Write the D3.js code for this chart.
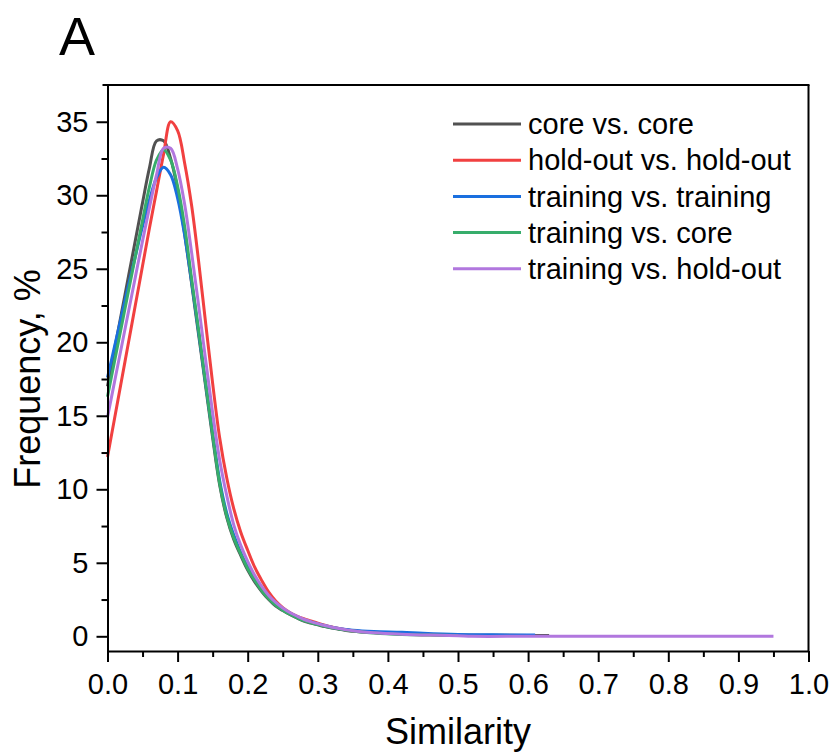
<!DOCTYPE html>
<html>
<head>
<meta charset="utf-8">
<script src="https://cdn.jsdelivr.net/npm/d3@7"></script>
<style>
    body { margin: 0; background: #fff; }
    svg text { font-family: "Liberation Sans", Arial, sans-serif; fill: #000; }
</style>
</head>
<body>
<script>
// similarity grid for the dense part of the curves
var simX = [0.00, 0.01, 0.02, 0.03, 0.04, 0.05, 0.06, 0.07, 0.08, 0.09,
    0.10, 0.11, 0.12, 0.13, 0.14, 0.15, 0.16, 0.17, 0.18, 0.19,
    0.20, 0.21, 0.22, 0.23, 0.24, 0.25, 0.26, 0.27, 0.28, 0.29,
    0.30, 0.31, 0.32, 0.33, 0.34, 0.35];

// frequency, % (one value per simX)
var coreCore = [17.0, 19.5, 22.0, 24.5, 27.0, 29.5, 31.9, 33.7, 33.7, 32.5,
    30.4, 27.4, 24.0, 20.5, 17.0, 13.5, 10.3, 8.1, 6.6, 5.5,
    4.5, 3.7, 3.05, 2.5, 2.05, 1.75, 1.48, 1.25, 1.04, 0.9,
    0.78, 0.66, 0.56, 0.48, 0.4, 0.34];
var holdHold = [12.2, 14.8, 17.4, 20.0, 22.6, 25.2, 27.8, 30.3, 32.8, 35.0,
    34.4, 32.2, 29.3, 25.5, 21.3, 17.2, 13.5, 10.8, 8.7, 7.1,
    5.85, 4.7, 3.8, 3.0, 2.4, 1.95, 1.62, 1.38, 1.2, 1.05,
    0.9, 0.76, 0.64, 0.54, 0.45, 0.38];
var trainTrain = [17.6, 19.7, 21.8, 23.9, 25.9, 27.9, 29.7, 31.2, 31.9, 31.4,
    29.8, 27.3, 24.1, 20.7, 17.2, 13.8, 10.6, 8.4, 6.9, 5.7,
    4.7, 3.9, 3.2, 2.65, 2.2, 1.85, 1.58, 1.34, 1.12, 0.97,
    0.84, 0.72, 0.62, 0.54, 0.47, 0.41];
var trainCore = [16.3, 18.7, 21.1, 23.5, 25.9, 28.3, 30.6, 32.4, 33.1, 32.4,
    30.6, 27.9, 24.3, 20.8, 17.2, 13.7, 10.4, 8.2, 6.7, 5.6,
    4.6, 3.8, 3.1, 2.55, 2.1, 1.78, 1.5, 1.27, 1.06, 0.92,
    0.8, 0.68, 0.58, 0.5, 0.42, 0.36];
var trainHold = [14.9, 17.3, 19.7, 22.1, 24.5, 26.9, 29.2, 31.4, 33.2, 33.2,
    31.8, 29.4, 26.1, 22.5, 18.8, 15.2, 12.0, 9.6, 7.6, 6.2,
    5.1, 4.15, 3.4, 2.78, 2.3, 1.92, 1.62, 1.38, 1.16, 1.0,
    0.86, 0.73, 0.62, 0.53, 0.45, 0.38];

// sparse tails after 0.35
var coreCoreTailX = [0.38, 0.42, 0.46, 0.50, 0.55, 0.60, 0.63];
var coreCoreTailY = [0.25, 0.18, 0.12, 0.09, 0.07, 0.06, 0.06];
var holdHoldTailX = [0.38, 0.42, 0.46, 0.50];
var holdHoldTailY = [0.26, 0.16, 0.10, 0.06];
var trainTrainTailX = [0.38, 0.42, 0.45, 0.50, 0.55, 0.61];
var trainTrainTailY = [0.32, 0.27, 0.20, 0.12, 0.10, 0.09];
var trainCoreTailX = [0.38, 0.42, 0.46, 0.50];
var trainCoreTailY = [0.22, 0.12, 0.08, 0.05];
var trainHoldTailX = [0.38, 0.42, 0.46, 0.50, 0.52, 0.60, 0.70, 0.80, 0.95];
var trainHoldTailY = [0.24, 0.14, 0.08, 0.04, 0.0, 0.0, 0.0, 0.0, 0.0];

var seriesNames = ["core vs. core", "hold-out vs. hold-out", "training vs. training",
    "training vs. core", "training vs. hold-out"];
var seriesColors = ["#515151", "#F14040", "#1A6FDF", "#37AD6B", "#B177DE"];

var xTicks = [0, 0.1, 0.2, 0.3, 0.4, 0.5, 0.6, 0.7, 0.8, 0.9, 1.0];
var xMinor = [0.05, 0.15, 0.25, 0.35, 0.45, 0.55, 0.65, 0.75, 0.85, 0.95];
var yTicks = [0, 5, 10, 15, 20, 25, 30, 35];
var yMinor = [2.5, 7.5, 12.5, 17.5, 22.5, 27.5, 32.5];

var width = 834,
    height = 753;

var margin = {
    top: 85,
    right: 25.5,
    bottom: 102,
    left: 107.5
};

var plotW = width - margin.left - margin.right,
    plotH = height - margin.top - margin.bottom;

var svg = d3.select("body").append("svg")
    .attr("width", width)
    .attr("height", height);

var g = svg.append("g")
    .attr("transform", "translate(" + margin.left + "," + margin.top + ")");

var x = d3.scaleLinear().domain([0, 1]).range([0, plotW]);
var y = d3.scaleLinear().domain([-1, 37.5]).range([plotH, 0]);

// build series from the arrays
var tables = [
    [coreCore, coreCoreTailX, coreCoreTailY],
    [holdHold, holdHoldTailX, holdHoldTailY],
    [trainTrain, trainTrainTailX, trainTrainTailY],
    [trainCore, trainCoreTailX, trainCoreTailY],
    [trainHold, trainHoldTailX, trainHoldTailY]
];

var series = tables.map(function (t, k) {
    var pts = simX.map(function (sx, j) {
        return { x: sx, y: t[0][j] };
    });
    t[1].forEach(function (tx, j) {
        pts.push({ x: tx, y: t[2][j] });
    });
    return { name: seriesNames[k], color: seriesColors[k], values: pts };
});

var line = d3.line()
    .curve(d3.curveCatmullRom.alpha(0.5))
    .x(function (d) { return x(d.x); })
    .y(function (d) { return y(d.y); });

// ****************** curves ***************************
g.selectAll("path.curve")
    .data(series)
    .enter().append("path")
    .attr("class", "curve")
    .attr("d", function (d) { return line(d.values); })
    .attr("fill", "none")
    .attr("stroke", function (d) { return d.color; })
    .attr("stroke-width", 3)
    .attr("stroke-linejoin", "round");

// ****************** axes ***************************
function styleAxis(sel) {
    sel.select(".domain").attr("stroke-width", 2);
    sel.selectAll(".tick line").attr("stroke-width", 2);
    sel.attr("font-family", null).attr("font-size", null);
    sel.selectAll("text").style("font-size", "29px");
}

g.append("g")
    .attr("transform", "translate(0," + plotH + ")")
    .call(d3.axisBottom(x)
        .tickValues(xTicks)
        .tickSizeInner(11)
        .tickSizeOuter(0)
        .tickPadding(11)
        .tickFormat(d3.format(".1f")))
    .call(styleAxis);

g.append("g")
    .attr("transform", "translate(0," + plotH + ")")
    .call(d3.axisBottom(x)
        .tickValues(xMinor)
        .tickSize(6)
        .tickFormat(""))
    .call(styleAxis)
    .select(".domain").remove();

g.append("g")
    .call(d3.axisLeft(y)
        .tickValues(yTicks)
        .tickSizeInner(11)
        .tickSizeOuter(0)
        .tickPadding(8))
    .call(styleAxis);

g.append("g")
    .call(d3.axisLeft(y)
        .tickValues(yMinor)
        .tickSize(6)
        .tickFormat(""))
    .call(styleAxis)
    .select(".domain").remove();

// top and right frame
g.append("line")
    .attr("x1", -5).attr("x2", plotW + 1)
    .attr("y1", 0).attr("y2", 0)
    .attr("stroke", "#000").attr("stroke-width", 2);
g.append("line")
    .attr("x1", plotW).attr("x2", plotW)
    .attr("y1", 0).attr("y2", plotH)
    .attr("stroke", "#000").attr("stroke-width", 2);

// axis titles
svg.append("text")
    .attr("x", margin.left + plotW / 2)
    .attr("y", 744)
    .attr("text-anchor", "middle")
    .style("font-size", "36px")
    .text("Similarity");

svg.append("text")
    .attr("transform", "translate(40,379) rotate(-90)")
    .attr("text-anchor", "middle")
    .style("font-size", "36px")
    .text("Frequency, %");

// panel letter
svg.append("text")
    .attr("x", 59)
    .attr("y", 55)
    .style("font-size", "54px")
    .text("A");

// ****************** legend ***************************
var legend = svg.append("g")
    .attr("transform", "translate(453,124)");

var item = legend.selectAll("g.item")
    .data(series)
    .enter().append("g")
    .attr("class", "item")
    .attr("transform", function (d, k) { return "translate(0," + (k * 36.2) + ")"; });

item.append("line")
    .attr("x1", 0).attr("x2", 68)
    .attr("stroke", function (d) { return d.color; })
    .attr("stroke-width", 3);

item.append("text")
    .attr("x", 75)
    .attr("dy", "0.35em")
    .style("font-size", "29px")
    .text(function (d) { return d.name; });
</script>
</body>
</html>
